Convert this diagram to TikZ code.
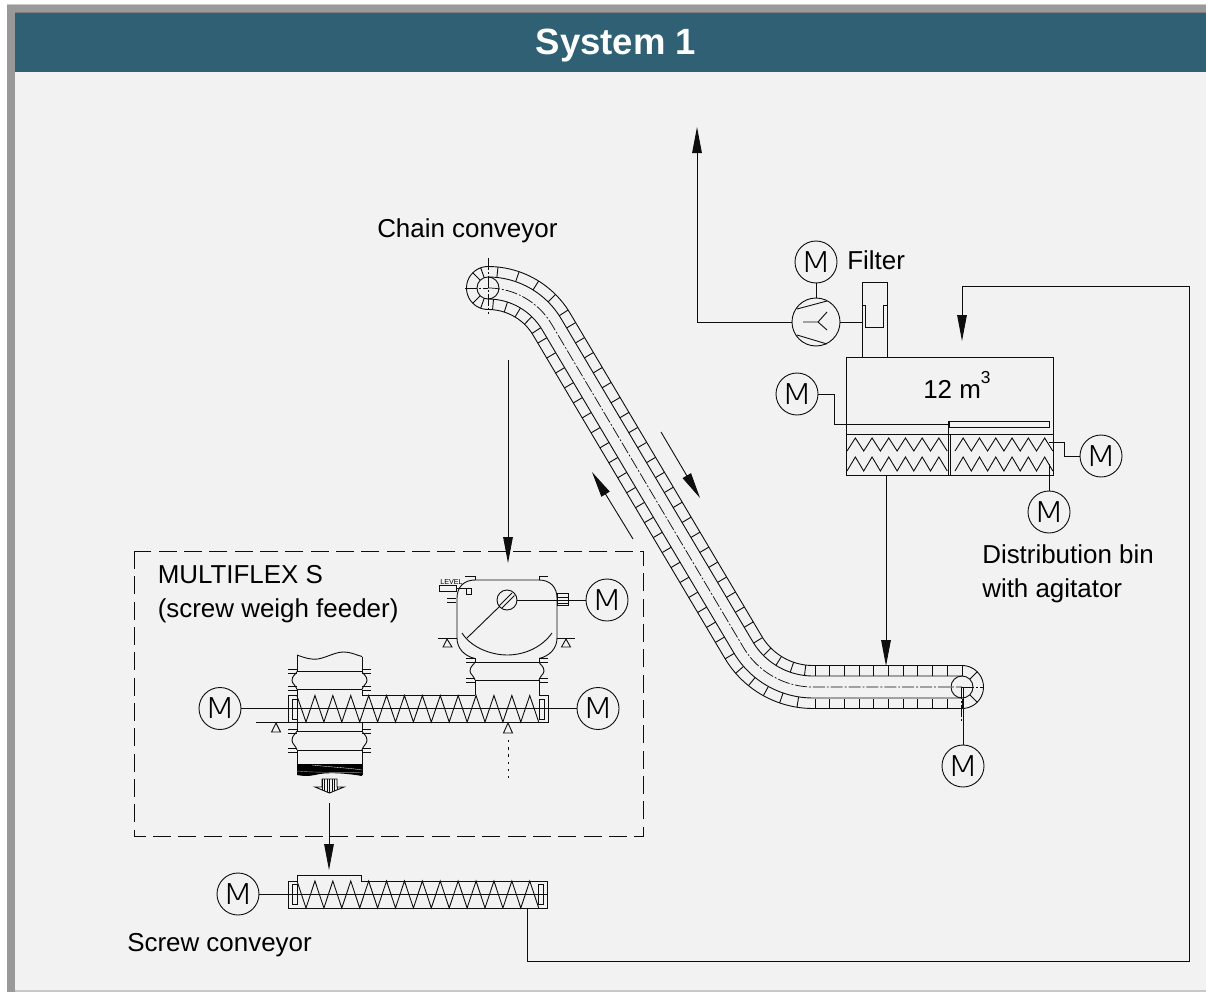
\documentclass[tikz,border=0pt]{standalone}
\usepackage{fontspec}
\usepackage{graphicx}
\setmainfont{Liberation Sans}
\IfFontExistsTF{DejaVu Sans ExtraLight}{\newfontfamily\motorfont{DejaVu Sans ExtraLight}}{%
 \IfFontExistsTF{Lato Hairline}{\newfontfamily\motorfont{Lato Hairline}}{%
  \IfFontExistsTF{Lato Light}{\newfontfamily\motorfont{Lato Light}}{%
   \IfFontExistsTF{Open Sans Light}{\newfontfamily\motorfont{Open Sans Light}}{%
    \newfontfamily\motorfont{Lato}}}}}
\usetikzlibrary{arrows.meta,calc}
\definecolor{panelbg}{HTML}{F2F2F2}
\definecolor{headbg}{HTML}{2F6074}
\definecolor{framegrey}{HTML}{999999}
\definecolor{framedark}{HTML}{808080}
\definecolor{edgegrey}{HTML}{C8C8C8}
\definecolor{ink}{HTML}{0E0E0E}
\newcommand{\motorM}{\scalebox{1.28}[1]{M}}
\tikzset{
  ink/.style={draw=ink,line width=0.68pt},
  motor/.style={circle,draw=ink,line width=0.68pt,inner sep=0pt,minimum size=31.5pt,font=\motorfont\fontsize{21.5}{21.5}\selectfont},
  label/.style={inner sep=0pt,anchor=base west,font=\fontsize{19.45}{23}\selectfont,text=black},
  boxnode/.style={draw=ink,line width=0.68pt,inner sep=0pt},
  flow/.style={ink,-{Triangle[length=19.5pt,width=7.2pt]}},
  axisline/.style={draw=ink,line width=0.55pt,dash pattern=on 9pt off 1.5pt on 1.4pt off 1.5pt},
}
% one running line of the chain conveyor, #1 = offset from its centre line
\newcommand{\bandline}[2][ink]{%
  \draw[#1] plot[domain=-90:-30.7,samples=24] ({488+(74+#2)*cos(\x)},{362+(74+#2)*sin(\x)})
    -- plot[domain=149.3:90,samples=24] ({813+(81-(#2))*cos(\x)},{606+(81-(#2))*sin(\x)})
    -- (962,{687-(#2)});}
\newcommand{\headtie}[3]{\draw[ink] ({488+(74+#2)*cos(#1)},{362+(74+#2)*sin(#1)}) -- ({488+(74+#3)*cos(#1)},{362+(74+#3)*sin(#1)});}
\newcommand{\foottie}[3]{\draw[ink] ({813+(81-(#2))*cos(#1)},{606+(81-(#2))*sin(#1)}) -- ({813+(81-(#3))*cos(#1)},{606+(81-(#3))*sin(#1)});}
\newcommand{\slanttie}[3]{\draw[ink] ({551.6+#1*.5105+(#2)*.86},{324.2+#1*.86-(#2)*.5105}) -- ({551.6+#1*.5105+(#3)*.86},{324.2+#1*.86-(#3)*.5105});}
% flange ticks: x from, x to, y of centre
\newcommand{\flange}[3]{\draw[ink] (#1,#3-2) -- (#2,#3-2) (#1,#3+2) -- (#2,#3+2);}
% bellows side: x, y top, y bottom, direction of the bulge
\newcommand{\bellow}[4]{\draw[ink] (#1,#2) .. controls ({#1+#4*1},{#2+3}) and ({#1+#4*5},{#2+4}) .. ({#1+#4*5},{(#2+#3)/2}) .. controls ({#1+#4*5},{(#2+#3)/2+3}) and ({#1+#4*1},{#3-4}) .. (#1,#3);}
\begin{document}
\begin{tikzpicture}[x=0.75pt,y=-0.75pt]
\useasboundingbox (0,0) rectangle (1206,992);
% ---- panel
\fill[white] (0,0) rectangle (1206,992);
\fill[edgegrey] (7,4) rectangle (1206,992);
\fill[framegrey] (7,4.5) rectangle (1206,992);
\fill[panelbg] (15,12) rectangle (1206,990);
\fill[edgegrey] (15,990) rectangle (1206,992);
\fill[framegrey] (7,990) rectangle (15,992);
\fill[framedark] (15,12) rectangle (1206,13);
\fill[headbg] (15,13) rectangle (1206,71.5);
\node[inner sep=0pt,anchor=base,font=\bfseries\fontsize{27.4}{30}\selectfont,text=white] (title) at (616,54) {System 1};

% ---- texts
\node[label] (tChain) at (377,237) {Chain conveyor};
\node[label] (tFilter) at (847,269) {Filter};
\node[label] (tVol) at (923,398) {12 m\raisebox{11.2pt}{\fontsize{13}{13}\selectfont 3}};
\node[label] (tBin1) at (982,563) {Distribution bin};
\node[label] (tBin2) at (982,597) {with agitator};
\node[label] (tMf1) at (157.5,583) {MULTIFLEX S};
\node[label] (tMf2) at (157.5,617) {(screw weigh feeder)};
\node[label] (tScrew) at (127,951) {Screw conveyor};

% ---- chain conveyor
\bandline{21.5}\bandline{11}\bandline{-11}\bandline{-21.5}
\bandline[axisline]{0}
\foreach \a in {-84,-71,-58,-45,-33} {\headtie{\a}{11}{21.5}}
\foreach \a in {-85,-72,-59,-46,-33} {\headtie{\a}{-11}{-21.5}}
\foreach \m in {0,...,20} {\pgfmathsetmacro\s{10.9+17.4*\m}\slanttie{\s}{11}{21.5}}
\foreach \m in {0,...,20} {\pgfmathsetmacro\s{9.2+17.4*\m}\slanttie{\s}{-11}{-21.5}}
\foreach \a in {148,135,122,109,97} {\foottie{\a}{11}{21.5}}
\foreach \a in {149,139,129,119,109,99} {\foottie{\a}{-11}{-21.5}}
\foreach \i in {0,...,10} {\draw[ink] ({815+14.7*\i},666) -- ({815+14.7*\i},676) ({815+14.7*\i},699) -- ({815+14.7*\i},709);}
% head end
\node[circle,boxnode,minimum size=16.5pt] (headPulley) at (488,288) {};
\draw[ink] plot[domain=90:270,samples=30] ({488+21.5*cos(\x)},{288+21.5*sin(\x)});
\foreach \a in {110,135,225,250} {\draw[ink] ({488+11*cos(\a)},{288+11*sin(\a)}) -- ({488+21.5*cos(\a)},{288+21.5*sin(\a)});}
\draw[axisline] (488,258) -- (488,314);
\draw[axisline] (465,288) -- (488,288);
% foot end
\node[circle,boxnode,minimum size=16.5pt] (footPulley) at (962,687) {};
\draw[ink] plot[domain=-90:90,samples=30] ({962+21.5*cos(\x)},{687+21.5*sin(\x)});
\foreach \a in {-45,45} {\draw[ink] ({962+11*cos(\a)},{687+11*sin(\a)}) -- ({962+21.5*cos(\a)},{687+21.5*sin(\a)});}
\draw[axisline] (961.3,687) -- (961.3,722);
\draw[axisline] (962,687) -- (984,687);
\node[motor] (mFoot) at (963,766) {\motorM};
\draw[ink] (mFoot) -- (963,687);
% travel arrows
\coordinate (dnFrom) at (661,432); \coordinate (dnTo) at (700,498);
\coordinate (upFrom) at (633,539); \coordinate (upTo) at (592,472);
\draw[flow] (dnFrom) -- (dnTo);
\draw[flow] (upFrom) -- (upTo);
% discharge into the feeder
\coordinate (chainOut) at (508,360); \coordinate (feedIn) at (508,563);
\draw[flow] (chainOut) -- (feedIn);

% ---- distribution bin
\node[boxnode,minimum width=155.25pt,minimum height=88.5pt] (bin) at (949.5,416) {};
\node[boxnode,minimum width=18.75pt,minimum height=56.25pt] (filter) at (874.5,319.5) {};
\draw[ink] (filter.west |- 0,305) -- (865,305) -- (865,327) -- (883,327) -- (883,305) -- (filter.east |- 0,305);
\draw[ink] (846,434) -- (1053,434);
\draw[ink] (948,434) -- (948,475) (950,434) -- (950,475);
\node[boxnode,minimum width=75pt,minimum height=4.5pt] (agit) at (999,424) {};
\draw[ink] (847,451) \foreach \i in {1,...,6} { -- ++(8.35,-13) -- ++(8.35,13)};
\draw[ink] (847,471) \foreach \i in {1,...,6} { -- ++(8.35,-14) -- ++(8.35,14)};
\draw[ink] (955,451) \foreach \i in {1,...,6} { -- ++(8.15,-13) -- ++(8.15,13)};
\draw[ink] (955,471) \foreach \i in {1,...,6} { -- ++(8.15,-14) -- ++(8.15,14)};
\node[motor] (mAgit) at (797,394) {\motorM};
\draw[ink] (mAgit.east) -- (834,394) -- (834,424) -- (agit.west);
\draw[ink] (agit.west |- 0,421) -- (agit.west |- 0,434);
\node[motor] (mBinR) at (1101,456) {\motorM};
\draw[ink] (mBinR.west) -- (1064,456) -- (1064,442) -- (1049,442);
\node[motor] (mBinB) at (1049,512) {\motorM};
\draw[ink] (mBinB.north) -- (1049,464);
% fan
\node[circle,boxnode,minimum size=36pt] (fan) at (816,322) {};
\draw[ink] (797,309) -- (827,301) (797,335) -- (827,344);
\draw[ink] (803,322) -- (818,322) (827,312) -- (818,322) -- (827,330);
\node[motor] (mFan) at (816,262) {\motorM};
\draw[ink] (mFan) -- (fan);
\draw[ink] (fan.east) -- (fan.east -| filter.west);
\coordinate (exhBend) at (697,322); \coordinate (exhTip) at (697,127);
\draw[flow] (fan.west) -- (exhBend) -- (exhTip);
% bin outlet
\coordinate (binOut) at (886,475); \coordinate (chainIn) at (886,666);
\draw[flow] (binOut) -- (chainIn);

% ---- MULTIFLEX S frame
\draw[ink,dash pattern=on 13.5pt off 5.5pt] (134,551) rectangle (643,836);

% hopper
\draw[ink] (475,580) -- (539,580) .. controls (550,580) and (557,587) .. (557,598) -- (557,638) .. controls (557,648) and (550,656) .. (539,658.5);
\draw[ink] (475,580) .. controls (464,580) and (457,587) .. (457,598) -- (457,638) .. controls (457,648) and (464,656) .. (475,658.5);
\draw[ink] (465,576) -- (475,576) -- (475,580) (539,580) -- (539,576) -- (548,576);
\draw[ink] (447,598) -- (456,598) (447,602) -- (456,602);
\draw[ink] (462,633) .. controls (473,650) and (495,655) .. (507,655) .. controls (525,655) and (542,647) .. (552,633);
\draw[ink] (467,638) -- (500,606);
\node[circle,boxnode,minimum size=15pt] (agCircle) at (507,600) {};
\draw[ink] (499.5,605.5) -- (512,593) (502,608) -- (514.5,595.5);
\node[motor] (mHop) at (607,600) {\motorM};
\draw[ink] (agCircle.east) -- (mHop.west);
\draw[ink] (557,593) rectangle (568,605);
\draw[ink] (557,597) -- (568,597) (557,603) -- (568,603);
% level probe
\node[inner sep=0pt,anchor=base west,font=\fontsize{5.4}{6}\selectfont] (tLevel) at (440,584) {LEVEL};
\draw[ink] (439,585) rectangle (456,591);
\draw[ink] (456,588) -- (471,588) -- (471,594) -- (466,594) -- (466,588);
% scale feet of the hopper
\draw[ink] (438,638) -- (457,638) (557,638) -- (575,638);
\draw[ink] (447,639) -- (443,647) -- (452,647) -- cycle;
\draw[ink] (566,639) -- (561.5,647) -- (570.5,647) -- cycle;
% neck under the hopper
\draw[ink] (475,658) -- (475,662) (539,658) -- (539,662);
\draw[ink] (475,662) -- (539,662) (475,680) -- (539,680);
\flange{466}{475}{660.5}\flange{539}{548}{660.5}
\flange{466}{475}{680}\flange{539}{548}{680}
\bellow{475}{662}{680}{-1}\bellow{539}{662}{680}{1}
\draw[ink] (475,680) -- (475,695) (539,680) -- (539,695);

% inlet column and bellows at the left
\draw[ink] (297,655) .. controls (305,658) and (312,660) .. (318,659) .. controls (328,657) and (335,652) .. (344,652) .. controls (351,652) and (356,655) .. (362,656.5);
\draw[ink] (297,655) -- (297,671.5) (362,656.5) -- (362,671.5);
\draw[ink] (297,671.5) -- (362,671.5) (297,689.5) -- (362,689.5);
\flange{288}{297}{671.3}\flange{362}{371}{671.3}
\flange{288}{297}{688.7}\flange{362}{371}{688.7}
\bellow{297}{671.5}{689.5}{-1}\bellow{362}{671.5}{689.5}{1}
\draw[ink] (297,689.5) -- (297,731) (362,689.5) -- (362,695) (362,722) -- (362,731);
\draw[ink] (297,731) -- (362,731) (297,750) -- (362,750);
\flange{288}{297}{731.3}\flange{362}{371}{731.3}
\flange{288}{297}{750.3}\flange{362}{371}{750.3}
\bellow{297}{731}{750}{-1}\bellow{362}{731}{750}{1}
\draw[ink] (297,750) -- (297,775) (362,750) -- (362,775);
% blackened outlet
\fill[black] (297,764) -- (362,764) -- (362,776) .. controls (345,773) and (325,772) .. (315,775) .. controls (308,776.5) and (302,776) .. (297,775) -- cycle;
\draw[panelbg,line width=0.25pt] (312,765) .. controls (330,767) and (350,768) .. (362,770);
\draw[framegrey,line width=0.3pt] (297,771) .. controls (320,773) and (345,772) .. (362,772.5);
% hollow outlet arrow
\begin{scope}
\clip (322,779) -- (337,779) -- (337,787) -- (344,787) -- (329.5,793) -- (315,787) -- (322,787) -- cycle;
\foreach \x in {322,324.5,...,338} {\draw[ink] (\x,779) -- (\x,794);}
\end{scope}
\draw[ink] (322,779) -- (337,779) -- (337,787) -- (344,787) -- (329.5,793) -- (315,787) -- (322,787) -- cycle;

% metering screw
\draw[ink] (288,695) -- (297,695) (362,695) -- (475,695) (539,695) -- (548,695) -- (548,722) -- (256,722);
\draw[ink] (288,695) -- (288,722);
\draw[ink] (292,699) rectangle (297,719) (539,699) rectangle (544,719);
\draw[ink] (297,696) -- (306,722) \foreach \i in {1,...,13} { -- ++(8.95,-26.5) -- ++(8.95,26.5)};
\node[motor] (mFeedL) at (220,708.5) {\motorM};
\node[motor] (mFeedR) at (598,708.5) {\motorM};
\draw[ink] (mFeedL) -- (mFeedR);
% scale feet
\draw[ink] (276,723) -- (271.5,732) -- (280.5,732) -- cycle;
\draw[ink] (508,723) -- (503.5,733) -- (512.5,733) -- cycle;
\coordinate (lcTop) at (508,740); \coordinate (lcEnd) at (508,781);
\draw[ink,dash pattern=on 1.8pt off 3.6pt] (lcTop) -- (lcEnd);

% ---- screw conveyor
\coordinate (feedOut) at (329,803); \coordinate (scrIn) at (329,870);
\draw[flow] (feedOut) -- (scrIn);
\draw[ink] (288,881) -- (297,881) -- (297,875) -- (361,875) -- (361,881) -- (547,881) -- (547,908) -- (288,908) -- cycle;
\draw[ink] (292,884) rectangle (297,904) (538,884) rectangle (543,904);
\draw[ink] (297,881) -- (306,908) \foreach \i in {1,...,13} { -- ++(8.95,-27) -- ++(8.95,27)};
\node[motor] (mScrew) at (238,894) {\motorM};
\coordinate (scrEnd) at (547,894);
\draw[ink] (mScrew) -- (scrEnd);
% return line to the bin
\coordinate (scrOut) at (527,908); \coordinate (retA) at (527,961); \coordinate (retB) at (1189,961);
\coordinate (retC) at (1189,286); \coordinate (retD) at (962,286); \coordinate (binIn) at (962,341);
\draw[flow] (scrOut) -- (retA) -- (retB) -- (retC) -- (retD) -- (binIn);
\end{tikzpicture}
\end{document}
